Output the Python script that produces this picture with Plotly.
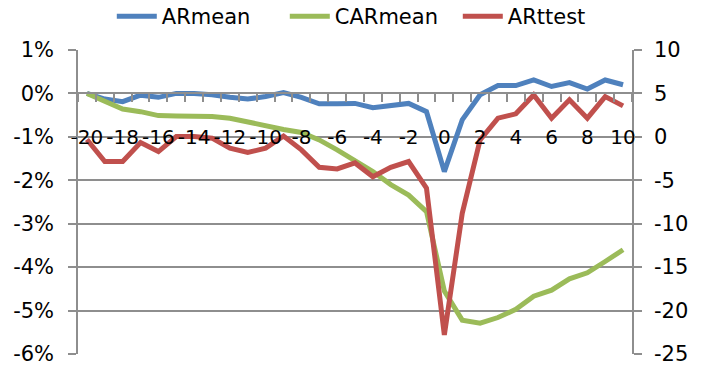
import plotly.graph_objects as go

# ---- data ----
event_days = list(range(-20, 11))
ar_mean = [0.0, -0.13, -0.19, -0.04, -0.09, 0.0, 0.0, -0.03, -0.09, -0.13,
           -0.07, 0.02, -0.09, -0.24, -0.24, -0.23, -0.33, -0.29, -0.23, -0.42,
           -1.8, -0.61, -0.03, 0.18, 0.18, 0.31, 0.16, 0.25, 0.10, 0.31, 0.20]
car_mean = [0.0, -0.19, -0.36, -0.42, -0.51, -0.52, -0.52, -0.53, -0.57, -0.66,
            -0.75, -0.83, -0.90, -1.07, -1.30, -1.55, -1.80, -2.10, -2.34, -2.72,
            -4.55, -5.22, -5.29, -5.16, -4.97, -4.67, -4.53, -4.27, -4.13, -3.87, -3.60]
ar_ttest = [-0.3, -2.84, -2.84, -0.65, -1.69, 0.04, 0.04, -0.15, -1.3, -1.8,
            -1.3, 0.1, -1.5, -3.5, -3.7, -3.0, -4.6, -3.5, -2.84, -5.9,
            -22.8, -8.8, -0.35, 2.15, 2.65, 4.83, 2.15, 4.26, 2.15, 4.64, 3.57]

x_tick_vals = list(range(-20, 11, 2))
x_tick_labels = [str(v) for v in x_tick_vals]
left_tick_vals = [1, 0, -1, -2, -3, -4, -5, -6]
left_tick_labels = ["1%", "0%", "-1%", "-2%", "-3%", "-4%", "-5%", "-6%"]
right_tick_vals = [10, 5, 0, -5, -10, -15, -20, -25]
right_tick_labels = ["10", "5", "0", "-5", "-10", "-15", "-20", "-25"]

FONT = "DejaVu Sans"
GRID = "#8e8e8e"

fig = go.Figure()
fig.add_trace(go.Scatter(x=event_days, y=ar_mean, name="ARmean", mode="lines",
                         line=dict(color="#4F81BD", width=5), yaxis="y"))
fig.add_trace(go.Scatter(x=event_days, y=car_mean, name="CARmean", mode="lines",
                         line=dict(color="#9BBB59", width=5), yaxis="y"))
fig.add_trace(go.Scatter(x=event_days, y=ar_ttest, name="ARttest", mode="lines",
                         line=dict(color="#C0504D", width=5), yaxis="y2"))

fig.update_layout(
    width=705, height=372,
    margin=dict(l=78, r=73, t=50, b=18, autoexpand=False),
    paper_bgcolor="white", plot_bgcolor="white",
    font=dict(family=FONT, size=20, color="black"),
    showlegend=True,
    legend=dict(orientation="h", x=0.061, xanchor="left", y=1.11, yanchor="middle",
                font=dict(family=FONT, size=21), entrywidth=118, entrywidthmode="pixels",
                itemwidth=40, bgcolor="rgba(0,0,0,0)"),
    xaxis=dict(range=[-20.5, 10.5], anchor="free", position=6/7,
               tickmode="array", tickvals=x_tick_vals, ticktext=x_tick_labels,
               tickangle=0,
               ticks="", showgrid=False, zeroline=False,
               showline=True, linecolor=GRID, linewidth=1.5,
               ticklabelstandoff=26,
               minor=dict(tickmode="linear", tick0=0.5, dtick=1, ticks="outside",
                          ticklen=8, tickcolor=GRID, tickwidth=1.5, showgrid=False),
               tickfont=dict(family=FONT, size=20)),
    yaxis=dict(range=[-6, 1], tickmode="array", tickvals=left_tick_vals,
               ticktext=left_tick_labels, showgrid=True, gridcolor=GRID, gridwidth=1.5,
               zeroline=False, showline=True, linecolor=GRID, linewidth=1.5,
               ticks="outside", ticklen=8, tickcolor=GRID, tickwidth=1.5,
               ticklabelstandoff=10, tickfont=dict(family=FONT, size=21)),
    yaxis2=dict(range=[-25, 10], overlaying="y", side="right", tickmode="array",
                tickvals=right_tick_vals, ticktext=right_tick_labels,
                showgrid=False, zeroline=False, showline=True, linecolor=GRID,
                linewidth=1.5, ticks="outside", ticklen=8, tickcolor=GRID,
                tickwidth=1.5, ticklabelstandoff=8, tickfont=dict(family=FONT, size=21)),
)

fig.write_html("out.html", config={"displayModeBar": False},
               post_script="document.body.style.margin='0';")
